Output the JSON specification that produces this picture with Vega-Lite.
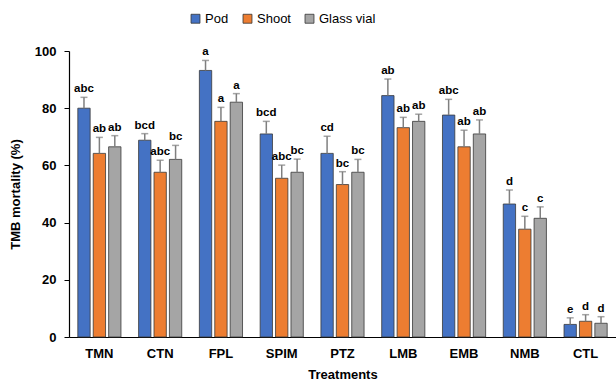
{
  "$schema": "https://vega.github.io/schema/vega-lite/v6.json",
  "width": 547,
  "height": 286,
  "autosize": {"type": "none"},
  "padding": {"left": 69, "top": 51, "right": 0, "bottom": 49},
  "background": "white",
  "data": {"values": [
    {"Treatment": "TMN", "Series": "Pod", "value": 80.0, "upper": 83.8, "label": "abc"},
    {"Treatment": "TMN", "Series": "Shoot", "value": 64.2, "upper": 69.8, "label": "ab"},
    {"Treatment": "TMN", "Series": "Glass vial", "value": 66.5, "upper": 70.4, "label": "ab"},
    {"Treatment": "CTN", "Series": "Pod", "value": 68.8, "upper": 71.1, "label": "bcd"},
    {"Treatment": "CTN", "Series": "Shoot", "value": 57.6, "upper": 61.8, "label": "abc"},
    {"Treatment": "CTN", "Series": "Glass vial", "value": 62.1, "upper": 67.0, "label": "bc"},
    {"Treatment": "FPL", "Series": "Pod", "value": 93.2, "upper": 96.7, "label": "a"},
    {"Treatment": "FPL", "Series": "Shoot", "value": 75.4, "upper": 80.3, "label": "a"},
    {"Treatment": "FPL", "Series": "Glass vial", "value": 82.1, "upper": 85.1, "label": "a"},
    {"Treatment": "SPIM", "Series": "Pod", "value": 71.0, "upper": 75.4, "label": "bcd"},
    {"Treatment": "SPIM", "Series": "Shoot", "value": 55.5, "upper": 60.1, "label": "abc"},
    {"Treatment": "SPIM", "Series": "Glass vial", "value": 57.6, "upper": 62.2, "label": "bc"},
    {"Treatment": "PTZ", "Series": "Pod", "value": 64.2, "upper": 70.2, "label": "cd"},
    {"Treatment": "PTZ", "Series": "Shoot", "value": 53.3, "upper": 57.8, "label": "bc"},
    {"Treatment": "PTZ", "Series": "Glass vial", "value": 57.6, "upper": 62.1, "label": "bc"},
    {"Treatment": "LMB", "Series": "Pod", "value": 84.4, "upper": 90.2, "label": "ab"},
    {"Treatment": "LMB", "Series": "Shoot", "value": 73.2, "upper": 76.8, "label": "ab"},
    {"Treatment": "LMB", "Series": "Glass vial", "value": 75.4, "upper": 77.9, "label": "ab"},
    {"Treatment": "EMB", "Series": "Pod", "value": 77.6, "upper": 83.1, "label": "abc"},
    {"Treatment": "EMB", "Series": "Shoot", "value": 66.5, "upper": 72.3, "label": "ab"},
    {"Treatment": "EMB", "Series": "Glass vial", "value": 71.0, "upper": 75.9, "label": "ab"},
    {"Treatment": "NMB", "Series": "Pod", "value": 46.5, "upper": 51.4, "label": "d"},
    {"Treatment": "NMB", "Series": "Shoot", "value": 37.7, "upper": 42.2, "label": "c"},
    {"Treatment": "NMB", "Series": "Glass vial", "value": 41.5, "upper": 45.5, "label": "c"},
    {"Treatment": "CTL", "Series": "Pod", "value": 4.4, "upper": 6.7, "label": "e"},
    {"Treatment": "CTL", "Series": "Shoot", "value": 5.5, "upper": 7.8, "label": "d"},
    {"Treatment": "CTL", "Series": "Glass vial", "value": 4.8, "upper": 7.1, "label": "d"}
  ]},
  "encoding": {
    "x": {
      "field": "Treatment", "type": "nominal",
      "sort": ["TMN", "CTN", "FPL", "SPIM", "PTZ", "LMB", "EMB", "NMB", "CTL"],
      "scale": {"paddingInner": 0.29, "paddingOuter": 0.145},
      "axis": {"title": "Treatments", "labelAngle": 0, "ticks": false, "labelPadding": 10, "titlePadding": 8}
    },
    "xOffset": {
      "field": "Series", "type": "nominal",
      "sort": ["Pod", "Shoot", "Glass vial"],
      "scale": {"paddingInner": 0.2, "paddingOuter": 0}
    }
  },
  "layer": [
    {
      "mark": {"type": "bar", "stroke": "#3a3a3a", "strokeWidth": 1, "strokeOpacity": 0.8},
      "encoding": {
        "y": {
          "field": "value", "type": "quantitative",
          "scale": {"domain": [0, 100], "nice": false},
          "axis": {"title": "TMB mortality (%)", "values": [0, 20, 40, 60, 80, 100], "grid": false, "tickSize": 5, "labelPadding": 8, "titlePadding": 12}
        },
        "color": {
          "field": "Series", "type": "nominal",
          "sort": ["Pod", "Shoot", "Glass vial"],
          "scale": {"domain": ["Pod", "Shoot", "Glass vial"], "range": ["#4472C4", "#ED7D31", "#A5A5A5"]},
          "legend": {
            "title": null, "orient": "none", "direction": "horizontal",
            "legendX": 120, "legendY": -39,
            "symbolType": "square", "symbolSize": 80, "symbolStrokeColor": "#333", "symbolStrokeWidth": 0.8,
            "labelFontSize": 13, "labelFont": "Liberation Sans", "labelFontWeight": "normal", "labelColor": "#000",
            "columnPadding": 12, "symbolOffset": 0, "labelOffset": 3
          }
        }
      }
    },
    {
      "mark": {"type": "rule", "color": "#7f7f7f", "strokeWidth": 1.5},
      "encoding": {
        "y": {"field": "value", "type": "quantitative"},
        "y2": {"field": "upper"}
      }
    },
    {
      "mark": {"type": "tick", "color": "#7f7f7f", "thickness": 1.5, "size": 7},
      "encoding": {
        "y": {"field": "upper", "type": "quantitative"}
      }
    },
    {
      "mark": {"type": "text", "baseline": "bottom", "dy": -3, "fontSize": 11.5, "fontWeight": "bold", "font": "Liberation Sans", "color": "#000"},
      "encoding": {
        "y": {"field": "upper", "type": "quantitative"},
        "text": {"field": "label", "type": "nominal"}
      }
    }
  ],
  "config": {
    "view": {"stroke": null},
    "axis": {
      "domainColor": "#000", "tickColor": "#000", "domainWidth": 1.2,
      "labelFont": "Liberation Sans", "labelFontSize": 13, "labelFontWeight": "bold", "labelColor": "#000",
      "titleFont": "Liberation Sans", "titleFontSize": 13, "titleFontWeight": "bold", "titleColor": "#000"
    }
  }
}
